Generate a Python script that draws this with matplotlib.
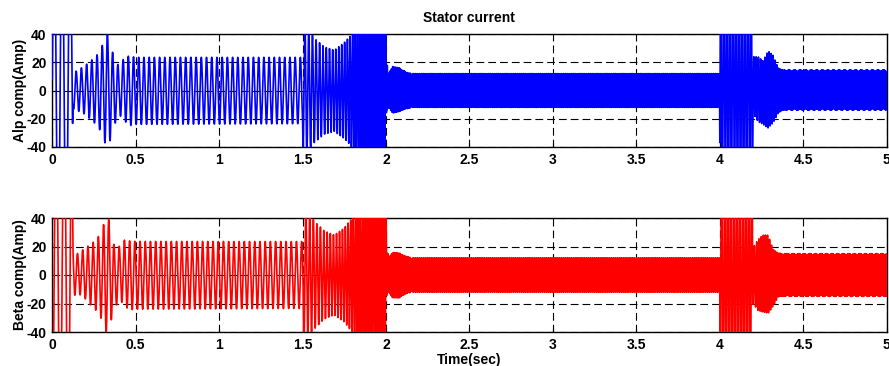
import numpy as np
import matplotlib
matplotlib.use("Agg")
import matplotlib.pyplot as plt

# ---------------- data ----------------
# envelope breakpoints (s) and upper / lower envelope values (A)
env_t = [0.0, 0.118, 0.124, 0.15, 0.18, 0.21, 0.24, 0.27, 0.30, 0.325, 0.345,
         0.37, 0.40, 0.43, 0.46, 0.50, 1.500, 1.504, 1.53, 1.57, 1.63, 1.69,
         1.75, 1.79, 1.82, 2.000, 2.003, 2.015, 2.04, 2.08, 2.12, 2.16, 4.000,
         4.003, 4.195, 4.20, 4.23, 4.26, 4.29, 4.32, 4.35, 4.38, 5.0]

alpha_up = [120, 120, 13, 14, 16.5, 19, 22, 25.5, 32, 42, 35,
            23, 17, 23, 24.5, 23.5, 23.5, 50, 45, 37, 31, 28.5,
            34, 39, 50, 55, 22, 12, 17, 16, 13, 12, 12,
            100, 100, 24, 24, 21, 28, 25, 16, 14.5, 14.5]
alpha_lo = [-120, -120, -13, -14.5, -15.5, -18.5, -21.5, -25, -31, -41, -36,
            -25, -17, -21, -25, -24, -23.5, -50, -45, -37, -31, -29,
            -34, -39, -50, -55, -14, -12, -16, -15, -13, -12, -12,
            -100, -100, -16, -22, -24, -26.5, -23, -16, -13.8, -13.8]

beta_up = [120, 120, 23, 15, 17.5, 20, 22.5, 25.5, 33, 41, 38,
           21, 20, 24.5, 24, 23.6, 23.5, 50, 45, 38, 31, 28,
           33, 39, 50, 55, 20, 12, 16, 15.5, 13, 12, 12,
           100, 100, 19, 25, 28, 28, 18, 15.5, 15, 15]
beta_lo = [-120, -120, -14, -14.5, -13.5, -19, -22, -26, -32, -41, -35,
           -25, -17, -21, -24.6, -24, -23.5, -50, -45, -38, -31, -28,
           -33, -39, -50, -55, -15, -12, -16, -16, -13, -12, -12,
           -100, -100, -20, -25, -26, -27, -22, -15.5, -15, -15]

# oscillation frequency breakpoints (s) and values (Hz)
freq_t = [0.0, 0.12, 0.124, 1.5, 1.504, 1.75, 1.85, 2.0, 2.003, 2.1, 2.16,
          4.0, 4.003, 4.195, 4.2, 4.35, 4.4, 5.0]
freq_hz = [21, 21, 32, 32, 42, 58, 75, 80, 110, 170, 260,
           260, 55, 55, 70, 90, 290, 290]

x_ticks = [0, 0.5, 1, 1.5, 2, 2.5, 3, 3.5, 4, 4.5, 5]
x_tick_labels = ["0", "0.5", "1", "1.5", "2", "2.5", "3", "3.5", "4", "4.5", "5"]
y_ticks = [-40, -20, 0, 20, 40]
y_tick_labels = ["-40", "-20", "0", "20", "40"]

# ---------------- build waveforms (sampled like a solver output) ----------------
dt = 5e-4
t = np.arange(0.0, 5.0 + dt / 2, dt)
f = np.interp(t, freq_t, freq_hz)
phase = 2 * np.pi * np.cumsum(f) * dt


def wave(up, lo, ph):
    u = np.interp(t, env_t, up)
    l = np.interp(t, env_t, lo)
    return (u + l) / 2 + (u - l) / 2 * np.sin(ph)


i_alpha = wave(alpha_up, alpha_lo, phase)
i_beta = wave(beta_up, beta_lo, phase - np.pi / 2)

# ---------------- figure ----------------
plt.rcParams['font.family'] = ['Liberation Sans', 'DejaVu Sans']
plt.rcParams['font.weight'] = 'bold'
fig = plt.figure(figsize=(8.89, 3.66), dpi=100)

left, width = 52.3 / 889, (886.5 - 52.3) / 889
ax1 = fig.add_axes([left, 1 - 147 / 366, width, (147 - 34) / 366])
ax2 = fig.add_axes([left, 1 - 332 / 366, width, (332 - 218) / 366])

for ax, y, col, lab in [(ax1, i_alpha, (0, 0, 1), "Alp comp(Amp)"),
                        (ax2, i_beta, (1, 0, 0), "Beta comp(Amp)")]:
    ax.plot(t, y, color=col, linewidth=1.2, zorder=3)
    ax.set_xlim(0, 5)
    ax.set_ylim(-40, 40)
    ax.set_xticks(x_ticks)
    ax.set_xticklabels(x_tick_labels, fontsize=10, fontweight='bold')
    ax.set_yticks(y_ticks)
    ax.set_yticklabels(y_tick_labels, fontsize=10, fontweight='bold')
    ax.tick_params(direction='in', length=3, width=0.8, pad=4)
    ax.grid(True, color='black', linewidth=0.8, linestyle=(0, (7, 3.6)))
    ax.set_axisbelow(True)
    for s in ax.spines.values():
        s.set_linewidth(1.0)
    ax.set_ylabel(lab, fontsize=10, fontweight='bold', labelpad=0)

ax1.set_title("Stator current", fontsize=10, fontweight='bold', pad=9)
ax2.set_xlabel("Time(sec)", fontsize=10, fontweight='bold', labelpad=1)

fig.savefig("out.png", dpi=100)
